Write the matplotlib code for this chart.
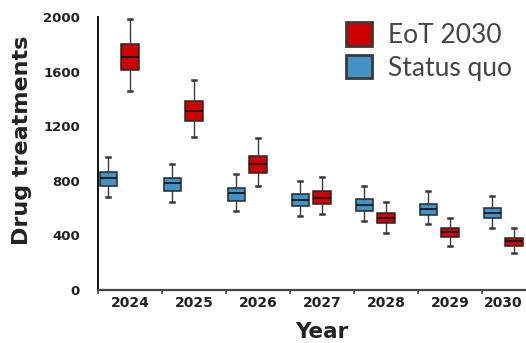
import matplotlib
matplotlib.use('Agg')
import matplotlib.pyplot as plt
import matplotlib.transforms as mtransforms
from matplotlib.patches import Patch

# ---- data ----
years = ['2024', '2025', '2026', '2027', '2028', '2029', '2030']
yticks = [0, 400, 800, 1200, 1600, 2000]

sq_whislo = [679, 647, 581, 542, 508, 481, 456]
sq_q1 = [764, 725, 654, 615, 579, 549, 525]
sq_med = [818, 781, 708, 659, 623, 591, 566]
sq_q3 = [867, 823, 750, 703, 664, 630, 598]
sq_whishi = [976, 921, 847, 801, 764, 725, 691]

eot_whislo = [1458, 1121, 764, 554, 420, 325, 269]
eot_q1 = [1612, 1238, 859, 630, 488, 386, 322]
eot_med = [1707, 1311, 921, 676, 525, 427, 359]
eot_q3 = [1802, 1385, 982, 725, 562, 452, 379]
eot_whishi = [1985, 1538, 1110, 830, 645, 530, 452]

series_names = ['EoT 2030', 'Status quo']
colors = {'EoT 2030': '#CC0000', 'Status quo': '#4393C6'}


def make_stats(lo, q1, med, q3, hi):
    return [dict(whislo=a, q1=b, med=c, q3=d, whishi=e, fliers=[])
            for a, b, c, d, e in zip(lo, q1, med, q3, hi)]


W, H = 526, 343
fig = plt.figure(figsize=(W / 100, H / 100), dpi=100)
ax = fig.add_axes([98 / W, 53 / H, 448 / W, 273 / H])

n = len(years)
idx = list(range(n))


def draw(stats, offset, color):
    ax.bxp(stats, positions=[i + offset for i in idx], widths=0.27,
           patch_artist=True, showfliers=False, capwidths=0.06,
           boxprops=dict(facecolor=color, edgecolor='#262626', linewidth=1.1),
           medianprops=dict(color='#111111', linewidth=1.2),
           whiskerprops=dict(color='#3a3a3a', linewidth=1.0),
           capprops=dict(color='#3a3a3a', linewidth=1.8),
           manage_ticks=False)


draw(make_stats(sq_whislo, sq_q1, sq_med, sq_q3, sq_whishi), -0.34, colors['Status quo'])
draw(make_stats(eot_whislo, eot_q1, eot_med, eot_q3, eot_whishi), 0.0, colors['EoT 2030'])

ax.set_xlim(-0.5, n - 0.5)
ax.set_ylim(0, 2000)

ax.set_yticks(yticks)
ax.set_yticklabels([str(v) for v in yticks], fontsize=9.5, fontweight='bold', color='#222222')
ax.tick_params(axis='y', length=0, pad=13)

ax.set_xticks(idx)
labels = ax.set_xticklabels(years, fontsize=10, fontweight='bold', color='#222222')
ax.set_xticks([i - 0.5 for i in idx], minor=True)
ax.tick_params(axis='x', which='major', length=0, pad=4)
ax.tick_params(axis='x', which='minor', length=3, width=1.2, color='#444444')
# shift last label left so it stays in view
labels[-1].set_transform(labels[-1].get_transform() +
                         mtransforms.ScaledTranslation(-11 / 100, 0, fig.dpi_scale_trans))

for s in ['top', 'right']:
    ax.spines[s].set_visible(False)
ax.spines['left'].set_color('#111111')
ax.spines['left'].set_linewidth(1.4)
ax.spines['bottom'].set_color('#444444')
ax.spines['bottom'].set_linewidth(1.6)

ax.set_xlabel('Year', fontsize=15.5, fontweight='bold', color='#222222')
ax.xaxis.set_label_coords(0.5, -0.118)
ax.set_ylabel('Drug treatments', fontsize=16, fontweight='bold', color='#222222')
ax.yaxis.set_label_coords(-0.147, 0.55)

handles = [Patch(facecolor=colors[s], edgecolor='#3a3a3a', linewidth=2.0) for s in series_names]
leg = fig.legend(handles, series_names, loc='upper left', bbox_to_anchor=(346 / W, 1 - 22 / H),
                 frameon=False, prop={'family': 'Lato', 'size': 19, 'weight': 'normal'},
                 handlelength=1.0, handleheight=1.0, handletextpad=0.6,
                 labelspacing=0.26, borderpad=0, borderaxespad=0)
for t in leg.get_texts():
    t.set_color('#444444')

fig.savefig('out.png', dpi=100)
